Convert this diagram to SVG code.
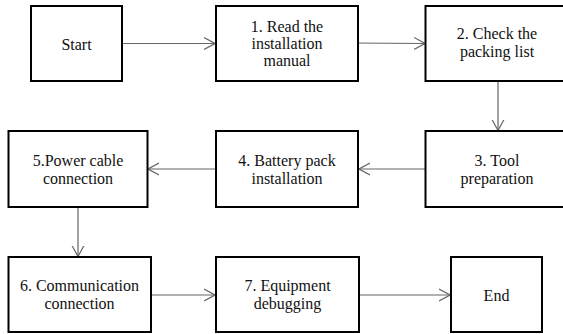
<svg xmlns="http://www.w3.org/2000/svg" width="563" height="334" viewBox="0 0 563 334">
<style>
.box{fill:#fff;stroke:#000;stroke-width:2}
.t{font-family:"Liberation Serif","Times New Roman",serif;font-size:16px;fill:#111;text-anchor:middle}
.c{stroke:#666;stroke-width:1.2;fill:none}
</style>
<defs>
<marker id="ah" markerWidth="12" markerHeight="14" refX="11" refY="7" orient="auto" markerUnits="userSpaceOnUse">
<path d="M0,1 L11,7 L0,13" fill="none" stroke="#666" stroke-width="1.2"/>
</marker>
</defs>
<rect width="563" height="334" fill="#fff"/>
<g id="connectors">
<line class="c" x1="122" y1="43.5" x2="215" y2="43.5" marker-end="url(#ah)"/>
<line class="c" x1="351" y1="43" x2="425" y2="43.5" marker-end="url(#ah)"/>
<line class="c" x1="498" y1="81" x2="498" y2="130.5" marker-end="url(#ah)"/>
<line class="c" x1="425" y1="169" x2="359" y2="169" marker-end="url(#ah)"/>
<line class="c" x1="216" y1="169" x2="148" y2="169" marker-end="url(#ah)"/>
<line class="c" x1="78" y1="207" x2="78" y2="256.5" marker-end="url(#ah)"/>
<line class="c" x1="151" y1="295" x2="215" y2="295" marker-end="url(#ah)"/>
<line class="c" x1="359" y1="295" x2="450" y2="295" marker-end="url(#ah)"/>
</g>
<g id="start">
<rect class="box" x="31" y="6" width="91" height="75"/>
<text class="t" x="76.5" y="50">Start</text>
</g>
<g id="step1">
<rect class="box" x="216" y="6" width="142" height="75"/>
<text class="t" x="287" y="31.5">1. Read the</text>
<text class="t" x="287" y="49">installation</text>
<text class="t" x="287" y="66">manual</text>
</g>
<g id="step2">
<rect class="box" x="425.5" y="6" width="143" height="75"/>
<text class="t" x="497" y="39">2. Check the</text>
<text class="t" x="497" y="57">packing list</text>
</g>
<g id="step3">
<rect class="box" x="425.5" y="131" width="143" height="76"/>
<text class="t" x="497" y="165.5">3. Tool</text>
<text class="t" x="497" y="184">preparation</text>
</g>
<g id="step4">
<rect class="box" x="216" y="131" width="142" height="76"/>
<text class="t" x="287" y="165.5">4. Battery pack</text>
<text class="t" x="287" y="184">installation</text>
</g>
<g id="step5">
<rect class="box" x="8.5" y="131" width="139" height="76"/>
<text class="t" x="78" y="165.5">5.Power cable</text>
<text class="t" x="78" y="184">connection</text>
</g>
<g id="step6">
<rect class="box" x="8.5" y="257" width="142.5" height="75"/>
<text class="t" x="79.5" y="291">6. Communication</text>
<text class="t" x="79.5" y="309">connection</text>
</g>
<g id="step7">
<rect class="box" x="216" y="257" width="143" height="75"/>
<text class="t" x="287.5" y="291">7. Equipment</text>
<text class="t" x="287.5" y="309">debugging</text>
</g>
<g id="end">
<rect class="box" x="451" y="257" width="91" height="75"/>
<text class="t" x="496.5" y="301">End</text>
</g>
</svg>
